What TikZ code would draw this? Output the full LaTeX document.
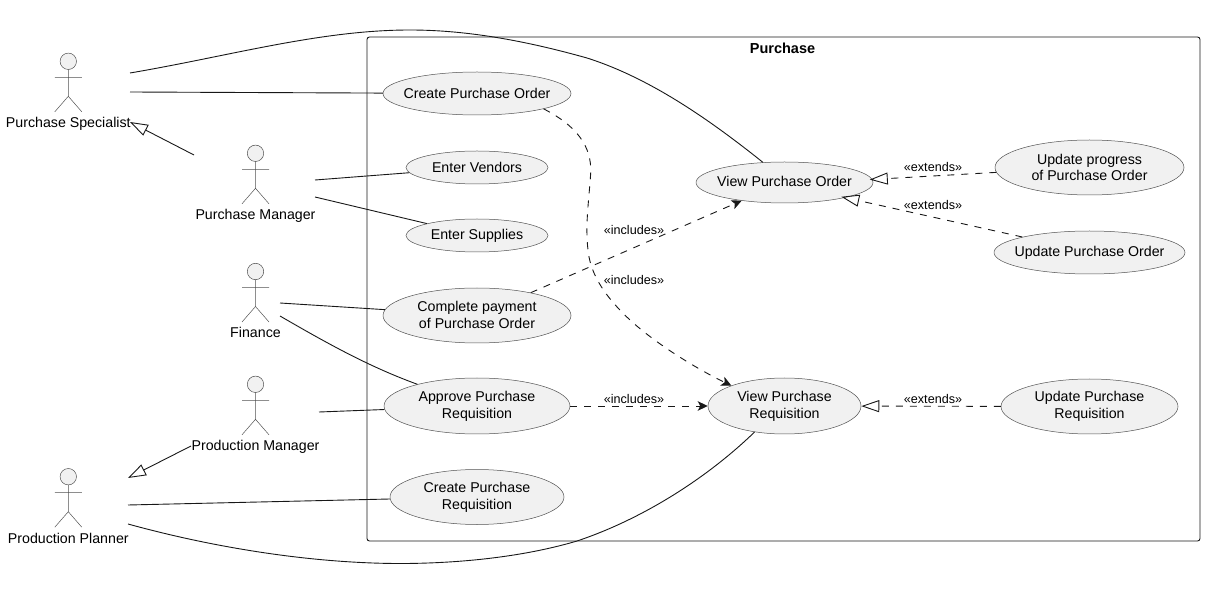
\documentclass[tikz,border=0pt]{standalone}
\usepackage{fontspec}
\setmainfont{Liberation Sans}
\usetikzlibrary{arrows.meta, shapes.geometric}
\definecolor{usefill}{HTML}{F1F1F1}
\definecolor{umlline}{HTML}{181818}
\tikzstyle{every node}=[font=\fontsize{14.2}{16.8}\selectfont, text=black, align=center]
\tikzstyle{usecase}=[ellipse, draw=umlline!75, fill=usefill, line width=0.5pt, inner sep=-10pt]
\tikzstyle{stereo}=[font=\fontsize{12.6}{14}\selectfont, inner sep=0pt]
\tikzstyle{assoc}=[umlline, line width=0.9pt]
\tikzstyle{dep}=[umlline, line width=0.9pt, dash pattern=on 7pt off 7pt, -{Stealth[length=10pt, width=9.5pt, inset=2.5pt]}]
\tikzstyle{gen}=[umlline, line width=0.9pt, -{Triangle[open, length=18pt, width=12pt]}]
\tikzstyle{genx}=[gen, dash pattern=on 7pt off 7pt]
\newcommand{\stickman}[4]{
    \draw[umlline!75, line width=0.5pt, fill=usefill] (#2,#3) circle(8.2);
    \draw[umlline!75, line width=0.5pt] (#2,#3+8.2) -- (#2,#3+35) (#2-13.5,#3+16) -- (#2+13.5,#3+16)
        (#2-13.5,#3+50.5) -- (#2,#3+35) -- (#2+13.5,#3+50.5);
    \node[inner sep=0pt, text height=10pt, text depth=3pt] (#1) at (#2,#3+63) {#4};
}
\begin{document}
\begin{tikzpicture}[x=1pt, y=-1pt]
\useasboundingbox (0,0) rectangle (1205,593);
% Frame
    \draw[umlline, line width=0.9pt, rounded corners=2.5pt] (367,37) rectangle (1200,541);
    \node[font=\fontsize{14.5}{16}\selectfont\bfseries, inner sep=0pt] (purchase) at (782.5,48) {Purchase};
% Actors
    \stickman{specialist}{68.3}{61.3}{Purchase Specialist}
    \stickman{purchmgr}{255.5}{153.3}{Purchase Manager}
    \stickman{finance}{255.5}{271.5}{Finance}
    \stickman{prodmgr}{255.5}{384.3}{Production Manager}
    \stickman{planner}{68.3}{476.7}{Production Planner}
% Use cases
    \node[usecase, minimum width=188pt, minimum height=43pt] (createpo) at (477,93.5) {Create Purchase Order};
    \node[usecase, minimum width=142pt, minimum height=33pt] (vendors) at (477,167.5) {Enter Vendors};
    \node[usecase, minimum width=142pt, minimum height=33pt] (supplies) at (477,235.5) {Enter Supplies};
    \node[usecase, minimum width=188pt, minimum height=55pt] (payment) at (477,315.5) {\raisebox{1pt}{\shortstack{Complete payment\\[1pt]of Purchase Order}}};
    \node[usecase, minimum width=186pt, minimum height=56pt] (approve) at (477,406) {Approve Purchase\\Requisition};
    \node[usecase, minimum width=174pt, minimum height=55pt] (createpr) at (477,497) {Create Purchase\\Requisition};
    \node[usecase, minimum width=177pt, minimum height=41pt] (viewpo) at (784.5,182.5) {\raisebox{1.5pt}{View Purchase Order}};
    \node[usecase, minimum width=153pt, minimum height=56pt] (viewpr) at (784.5,406) {View Purchase\\Requisition};
    \node[usecase, minimum width=189pt, minimum height=55pt] (progress) at (1089.5,167.5) {Update progress\\of Purchase Order};
    \node[usecase, minimum width=191pt, minimum height=43pt] (updatepo) at (1089.5,252.5) {Update Purchase Order};
    \node[usecase, minimum width=177pt, minimum height=55pt] (updatepr) at (1089.5,406.5) {Update Purchase\\Requisition};
% Free ends at the actors
    \coordinate (specA) at (130,73);
    \coordinate (specB) at (130,92);
    \coordinate (specC) at (130,122);
    \coordinate (pmgrA) at (194,155);
    \coordinate (pmgrB) at (315,180);
    \coordinate (pmgrC) at (315,197);
    \coordinate (finA) at (280,303);
    \coordinate (finB) at (280,316);
    \coordinate (prodA) at (319,412);
    \coordinate (prodB) at (191,446);
    \coordinate (planA) at (128,478);
    \coordinate (planB) at (128,505);
    \coordinate (planC) at (128,524);
% Associations
    \draw[assoc] (specA) .. controls (230,56) and (320,30) .. (410,30)
        .. controls (470,30) and (530,42) .. (587,58)
        .. controls (650,78) and (710,120) .. (viewpo.137);
    \draw[assoc] (specB) -- (createpo);
    \draw[assoc] (pmgrB) -- (vendors);
    \draw[assoc] (pmgrC) -- (supplies);
    \draw[assoc] (finA) -- (payment);
    \draw[assoc] (finB) .. controls (330,345) and (370,367) .. (approve.160);
    \draw[assoc] (prodA) -- (approve);
    \draw[assoc] (planB) -- (createpr);
    \draw[assoc] (planC) .. controls (215,548) and (315,564) .. (405,563.5)
        .. controls (470,563) and (530,555) .. (577,541)
        .. controls (640,520) and (705,480) .. (viewpr.-139);
% Generalisations
    \draw[gen] (pmgrA) -- (specC);
    \draw[gen] (prodB) -- (planA);
% Dependencies
    \draw[dep] (createpo.-13) .. controls (575,125) and (592,145) .. (590.7,173)
        .. controls (589,200) and (585,225) .. (588,250)
        .. controls (590,270) and (600,292) .. (630,320)
        .. controls (655,343) and (695,368) .. (viewpr.159);
    \draw[dep] (payment.23) -- (viewpo.-157);
    \draw[dep] (approve) -- (viewpr);
    \draw[genx, shorten >=-2.5pt] (progress.183) -- (viewpo.2);
    \draw[genx, shorten >=-4pt] (updatepo.167) -- (viewpo.-14);
    \draw[genx] (updatepr) -- (viewpr);
% Stereotypes
    \node[stereo] (inclA) at (634,230) {«includes»};
    \node[stereo] (inclB) at (634,280) {«includes»};
    \node[stereo] (inclC) at (634,399) {«includes»};
    \node[stereo] (extA) at (933,167) {«extends»};
    \node[stereo] (extB) at (933,205) {«extends»};
    \node[stereo] (extC) at (933,399) {«extends»};
\end{tikzpicture}
\end{document}
